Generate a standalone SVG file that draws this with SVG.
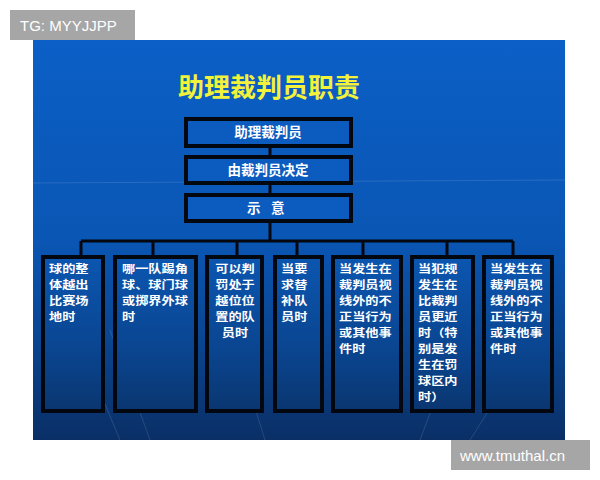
<svg xmlns="http://www.w3.org/2000/svg" width="600" height="480" viewBox="0 0 600 480">
<defs>
<linearGradient id="bg" x1="0" y1="0" x2="0" y2="1">
<stop offset="0" stop-color="#0b5fc6"/>
<stop offset="0.5" stop-color="#0a56b4"/>
<stop offset="0.75" stop-color="#0a4590"/>
<stop offset="1" stop-color="#0a2f66"/>
</linearGradient>
<linearGradient id="cell" x1="0" y1="0" x2="0" y2="1">
<stop offset="0" stop-color="#0b56b0"/>
<stop offset="0.6" stop-color="#0a4590"/>
<stop offset="1" stop-color="#0a3670"/>
</linearGradient>
</defs>
<style>
.box{fill:#0c5cc0;stroke:#03070f;stroke-width:4}
.cellbox{fill:url(#cell);stroke:#03070f;stroke-width:4}
.conn{stroke:#03070f;stroke-width:3;fill:none}
.t{font-family:"Noto Sans CJK SC","Noto Sans",sans-serif;font-weight:bold;fill:#ffffff;font-size:13.5px}
.s{font-family:"Noto Sans CJK SC","Noto Sans",sans-serif;font-weight:bold;fill:#ffffff;font-size:11px}
.c{text-anchor:middle}
.wm{fill:#a6a6a6}
.wmt{font-family:"Liberation Sans",Arial,sans-serif;fill:#ffffff;font-size:15px}
.deco{stroke:#ffffff;stroke-opacity:0.12;stroke-width:1;fill:none}
</style>
<rect width="600" height="480" fill="#ffffff"/>
<rect x="33" y="40" width="532" height="400" fill="url(#bg)"/>
<g class="deco">
<path d="M70 320 L120 440"/>
<path d="M110 330 L150 440"/>
<path d="M240 360 L265 440"/>
<path d="M420 440 L450 360"/>
<path d="M470 440 L540 330"/>
<path d="M33 183 L565 180"/>
</g>
<rect class="wm" x="10" y="10" width="125" height="30"/>
<text class="wmt" x="20" y="31">TG: MYYJJPP</text>
<rect class="wm" x="451" y="440" width="139" height="30"/>
<text class="wmt" x="460" y="461">www.tmuthal.cn</text>
<text x="269" y="97" text-anchor="middle" font-family="Noto Sans CJK SC,sans-serif" font-weight="bold" font-size="26" fill="#f2f23a">助理裁判员职责</text>
<g id="connectors">
<path class="conn" d="M270 147 V155 M270 184 V193 M270 222 V241 M81 241 H513 M81 241 V256 M153 241 V256 M237 241 V256 M297 241 V256 M363 241 V256 M447 241 V256 M513 241 V256"/>
</g>
<g id="n1"><rect class="box" x="186" y="119" width="165" height="27"/><text class="t c" x="268" y="137">助理裁判员</text></g>
<g id="n2"><rect class="box" x="186" y="157" width="165" height="26"/><text class="t c" x="268" y="175">由裁判员决定</text></g>
<g id="n3"><rect class="box" x="186" y="195" width="165" height="26"/><text class="t" x="247" y="213">示</text><text class="t" x="271" y="213">意</text></g>
<g id="b1"><rect class="cellbox" x="43" y="257" width="60" height="154"/>
<text class="s" transform="translate(49,0) scale(1.2,1)"><tspan x="0" y="273">球的整</tspan><tspan x="0" y="289">体越出</tspan><tspan x="0" y="305">比赛场</tspan><tspan x="0" y="321">地时</tspan></text></g>
<g id="b2"><rect class="cellbox" x="115" y="257" width="81" height="154"/>
<text class="s" transform="translate(122,0) scale(1.2,1)"><tspan x="0" y="273">哪一队踢角</tspan><tspan x="0" y="289">球、球门球</tspan><tspan x="0" y="305">或掷界外球</tspan><tspan x="0" y="321">时</tspan></text></g>
<g id="b3"><rect class="cellbox" x="207" y="257" width="55" height="154"/>
<text class="s c" transform="translate(235,0) scale(1.2,1)"><tspan x="0" y="273">可以判</tspan><tspan x="0" y="289">罚处于</tspan><tspan x="0" y="305">越位位</tspan><tspan x="0" y="321">置的队</tspan><tspan x="0" y="337">员时</tspan></text></g>
<g id="b4"><rect class="cellbox" x="275" y="257" width="47" height="154"/>
<text class="s" transform="translate(281,0) scale(1.2,1)"><tspan x="0" y="273">当要</tspan><tspan x="0" y="289">求替</tspan><tspan x="0" y="305">补队</tspan><tspan x="0" y="321">员时</tspan></text></g>
<g id="b5"><rect class="cellbox" x="333" y="257" width="68" height="154"/>
<text class="s" transform="translate(339,0) scale(1.2,1)"><tspan x="0" y="273">当发生在</tspan><tspan x="0" y="289">裁判员视</tspan><tspan x="0" y="305">线外的不</tspan><tspan x="0" y="321">正当行为</tspan><tspan x="0" y="337">或其他事</tspan><tspan x="0" y="353">件时</tspan></text></g>
<g id="b6"><rect class="cellbox" x="412" y="257" width="61" height="154"/>
<text class="s" transform="translate(418,0) scale(1.2,1)"><tspan x="0" y="273">当犯规</tspan><tspan x="0" y="289">发生在</tspan><tspan x="0" y="305">比裁判</tspan><tspan x="0" y="321">员更近</tspan><tspan x="0" y="337">时（特</tspan><tspan x="0" y="353">别是发</tspan><tspan x="0" y="369">生在罚</tspan><tspan x="0" y="385">球区内</tspan><tspan x="0" y="401">时）</tspan></text></g>
<g id="b7"><rect class="cellbox" x="484" y="257" width="68" height="154"/>
<text class="s" transform="translate(490,0) scale(1.2,1)"><tspan x="0" y="273">当发生在</tspan><tspan x="0" y="289">裁判员视</tspan><tspan x="0" y="305">线外的不</tspan><tspan x="0" y="321">正当行为</tspan><tspan x="0" y="337">或其他事</tspan><tspan x="0" y="353">件时</tspan></text></g>
</svg>
